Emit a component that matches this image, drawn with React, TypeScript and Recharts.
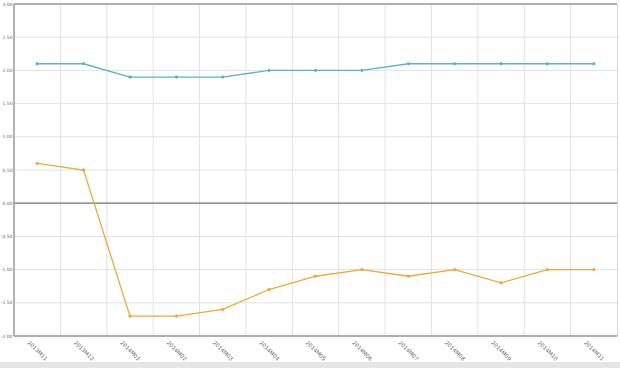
import { CartesianGrid, Line, LineChart, ReferenceLine, XAxis, YAxis } from 'recharts'

const months = [
  '2013M11', '2013M12', '2014M01', '2014M02', '2014M03', '2014M04', '2014M05',
  '2014M06', '2014M07', '2014M08', '2014M09', '2014M10', '2014M11',
]
const blueSeries = [2.1, 2.1, 1.9, 1.9, 1.9, 2.0, 2.0, 2.0, 2.1, 2.1, 2.1, 2.1, 2.1]
const orangeSeries = [0.6, 0.5, -1.7, -1.7, -1.6, -1.3, -1.1, -1.0, -1.1, -1.0, -1.2, -1.0, -1.0]
const yTicks = [-2, -1.5, -1, -0.5, 0, 0.5, 1, 1.5, 2, 2.5, 3]

const data = months.map((month, i) => ({
  month,
  blue: blueSeries[i],
  orange: orangeSeries[i],
}))

const fmt = (v: number) => v.toFixed(2).replace('.', ',')

function XTick({ x, y, payload }: any) {
  return (
    <text
      x={x}
      y={y + 13}
      transform={`rotate(45 ${x} ${y + 13})`}
      textAnchor="middle"
      dominantBaseline="middle"
      fontSize={5.5}
      fill="#666"
      fontFamily="DejaVu Sans, sans-serif"
    >
      {payload.value}
    </text>
  )
}

export default function App() {
  const n = months.length
  return (
    <div style={{ position: 'absolute', left: 0, top: 0, width: 620, height: 368, background: '#fff' }}>
      <LineChart
        width={620}
        height={362}
        data={data}
        margin={{ top: 4, right: 3, left: 0, bottom: 0 }}
      >
        <CartesianGrid
          stroke="#e2e2e2"
          verticalCoordinatesGenerator={({ offset }: any) =>
            Array.from({ length: n - 1 }, (_, i) => offset.left + ((i + 1) * offset.width) / n)
          }
        />
        <XAxis
          dataKey="month"
          scale="band"
          interval={0}
          height={26}
          tickLine={false}
          tickSize={0}
          axisLine={{ stroke: '#999', strokeWidth: 1.5 }}
          tick={<XTick />}
        />
        <YAxis
          domain={[-2, 3]}
          ticks={yTicks}
          width={14}
          tickLine={false}
          tickSize={0}
          axisLine={{ stroke: '#999', strokeWidth: 1.5 }}
          tickFormatter={fmt}
          tick={{ fontSize: 4.5, fill: '#666', fontFamily: 'DejaVu Sans, sans-serif' }}
          tickMargin={1.5}
        />
        <ReferenceLine y={3} stroke="#999" strokeWidth={1.5} />
        <ReferenceLine y={0} stroke="#777" strokeWidth={1.2} />
        <Line
          dataKey="blue"
          stroke="#5ab4c8"
          strokeWidth={1.3}
          dot={{ r: 1.2, fill: '#5ab4c8', stroke: '#5ab4c8', strokeWidth: 1 }}
          isAnimationActive={false}
        />
        <Line
          dataKey="orange"
          stroke="#f0a835"
          strokeWidth={1.3}
          dot={{ r: 1.2, fill: '#f0a835', stroke: '#f0a835', strokeWidth: 1 }}
          isAnimationActive={false}
        />
      </LineChart>
      <div
        style={{
          position: 'absolute',
          left: 617,
          top: 4,
          width: 1,
          height: 332,
          background: '#d8d8d8',
        }}
      />
      <div
        style={{
          position: 'absolute',
          left: 0,
          top: 362,
          width: 620,
          height: 6,
          background: '#e6e6e6',
        }}
      />
    </div>
  )
}
